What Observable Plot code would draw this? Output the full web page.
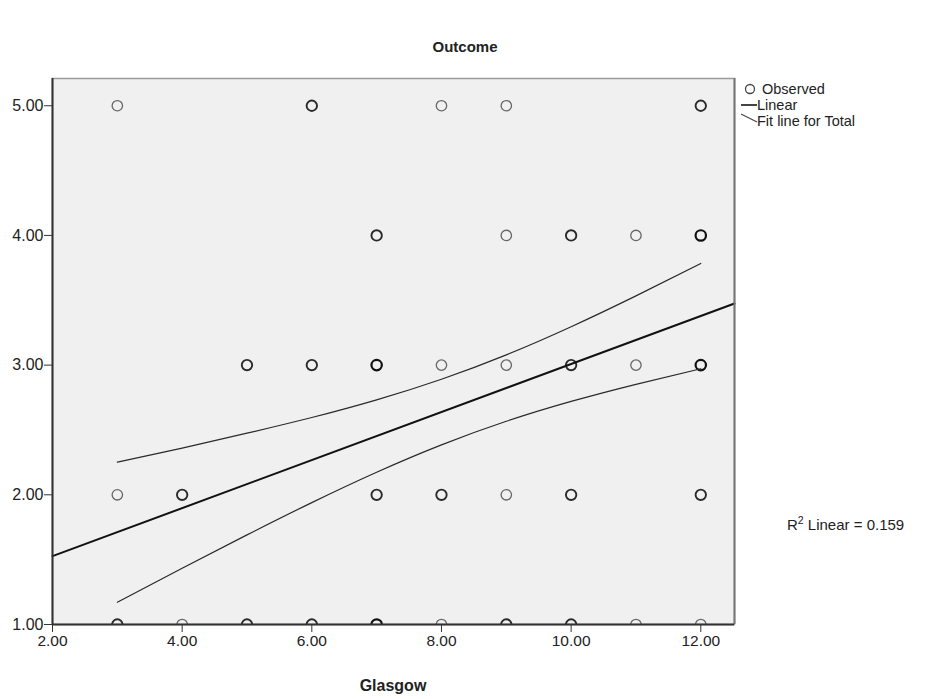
<!DOCTYPE html>
<html><head><meta charset="utf-8">
<script src="https://cdn.jsdelivr.net/npm/d3@7"></script>
<script src="https://cdn.jsdelivr.net/npm/@observablehq/plot@0.6"></script>
<style>
body{margin:0;background:#fff;font-family:"Liberation Sans",Arial,sans-serif;}
#wrap{position:relative;width:926px;height:699px;}
</style></head><body><div id="wrap"></div>
<script>
// Observed points (Glasgow, Outcome) and estimated multiplicity (bold = overlapping cases)
const obsX = [3,6,8,9,12, 7,9,10,11,12, 5,6,7,8,9,10,11,12, 3,4,7,8,9,10,12, 3,4,5,6,7,8,9,10,11,12];
const obsY = [5,5,5,5,5, 4,4,4,4,4, 3,3,3,3,3,3,3,3, 2,2,2,2,2,2,2, 1,1,1,1,1,1,1,1,1,1];
const obsN = [1,2,1,1,2, 2,1,2,1,3, 2,2,3,1,1,2,1,3, 1,2,2,2,1,2,2, 2,1,2,2,3,1,2,2,1,1];

// Linear fit line read at the plot edges
const fitX = [2, 12.52];
const fitY = [1.527, 3.475];

// Fit-line confidence band
const ciX     = [3, 4, 5, 6, 7, 8, 9, 10, 11, 12];
const ciUpper = [2.252, 2.360, 2.475, 2.596, 2.732, 2.891, 3.079, 3.296, 3.534, 3.784];
const ciLower = [1.172, 1.434, 1.691, 1.940, 2.174, 2.385, 2.567, 2.720, 2.852, 2.972];

const xTicks = [2, 4, 6, 8, 10, 12];
const yTicks = [1, 2, 3, 4, 5];
const titleText = "Outcome";
const xLabel = "Glasgow";
const r2Text = "0.159";

const obs = obsX.map((x, i) => ({x, y: obsY[i], n: obsN[i]}));
const fit = fitX.map((x, i) => ({x, y: fitY[i]}));
const up = ciX.map((x, i) => ({x, y: ciUpper[i]}));
const lo = ciX.map((x, i) => ({x, y: ciLower[i]}));

const fmt = d3.format(".2f");
const plot = Plot.plot({
  width: 926, height: 699,
  marginLeft: 52, marginRight: 192, marginTop: 78, marginBottom: 75,
  style: {fontFamily: "Liberation Sans, Arial, sans-serif", fontSize: "15px", background: "#fff", color: "#222", overflow: "visible"},
  x: {domain: [2, 12.52], label: null},
  y: {domain: [1, 5.21], label: null},
  marks: [
    Plot.frame({fill: "#f0f0f0", stroke: "#9a9a9a", strokeWidth: 1.5}),
    Plot.dot(obs, {x: "x", y: "y", r: 5.2, clip: true,
      stroke: d => d.n >= 3 ? "#111" : d.n === 2 ? "#2a2a2a" : "#666",
      strokeWidth: d => d.n >= 3 ? 2.2 : d.n === 2 ? 1.9 : 1.3,
      fill: "none"}),
    Plot.line(up, {x: "x", y: "y", stroke: "#2a2a2a", strokeWidth: 1.2, curve: "natural"}),
    Plot.line(lo, {x: "x", y: "y", stroke: "#2a2a2a", strokeWidth: 1.2, curve: "natural"}),
    Plot.line(fit, {x: "x", y: "y", stroke: "#111", strokeWidth: 2}),
    Plot.ruleX([12.52], {stroke: "#777", strokeWidth: 2}),
    Plot.ruleX([2], {stroke: "#333", strokeWidth: 2}),
    Plot.ruleY([1], {stroke: "#333", strokeWidth: 2}),
    Plot.axisX({ticks: xTicks, tickFormat: fmt, tickSize: 8, tickPadding: 2, label: null, stroke: "#333", fill: "#222", fontSize: 15.5}),
    Plot.axisY({ticks: yTicks, tickFormat: fmt, tickSize: 8, tickPadding: 1, label: null, stroke: "#333", fill: "#222", fontSize: 16})
  ]
});
document.getElementById("wrap").appendChild(plot);

const svg = d3.select(plot);
const g = svg.append("g").attr("font-family", "Liberation Sans, Arial, sans-serif").attr("fill", "#222").attr("text-anchor", "start");
g.append("text").attr("x", 465).attr("y", 52).attr("text-anchor", "middle")
  .attr("font-size", 15).attr("font-weight", "bold").text(titleText);
g.append("text").attr("x", 393).attr("y", 691).attr("text-anchor", "middle")
  .attr("font-size", 16).attr("font-weight", "bold").text(xLabel);

// legend
g.append("circle").attr("cx", 750).attr("cy", 89).attr("r", 4.5).attr("fill", "none").attr("stroke", "#444").attr("stroke-width", 1.3);
g.append("text").attr("x", 762).attr("y", 94).attr("font-size", 14.5).text("Observed");
g.append("line").attr("x1", 741).attr("x2", 757).attr("y1", 105).attr("y2", 105).attr("stroke", "#444").attr("stroke-width", 2);
g.append("text").attr("x", 757).attr("y", 110).attr("font-size", 14.5).text("Linear");
g.append("line").attr("x1", 741).attr("x2", 757).attr("y1", 114).attr("y2", 122).attr("stroke", "#444").attr("stroke-width", 1.2);
g.append("text").attr("x", 757).attr("y", 126).attr("font-size", 14.5).text("Fit line for Total");

// R² annotation
const r2 = g.append("text").attr("x", 787).attr("y", 530).attr("font-size", 15);
r2.append("tspan").text("R");
r2.append("tspan").attr("dy", -6).attr("font-size", 10.5).text("2");
r2.append("tspan").attr("dy", 6).text(" Linear = " + r2Text);
</script>
</body></html>
